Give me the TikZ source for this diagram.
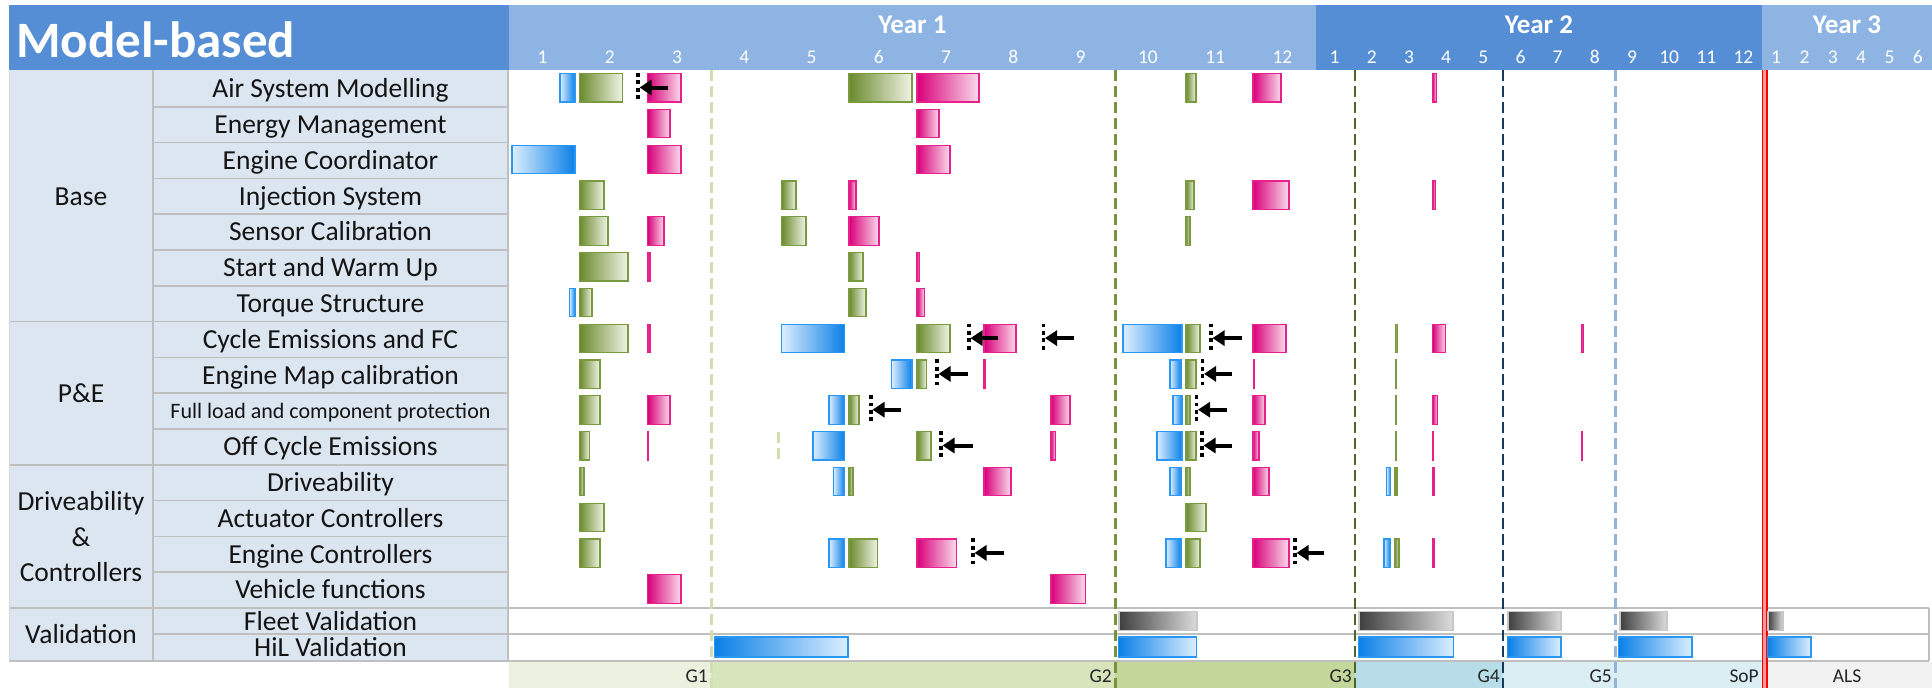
\documentclass[tikz,border=0pt]{standalone}
\usepackage{fontspec}
\setmainfont{Carlito}
\usetikzlibrary{arrows.meta}
\definecolor{hdrdark}{HTML}{558ED5}
\definecolor{hdrlight}{HTML}{8DB4E2}
\definecolor{cellbg}{HTML}{DCE6F1}
\definecolor{cellline}{HTML}{BFBFBF}
\definecolor{txt}{HTML}{141414}
\definecolor{gdraw}{HTML}{7A9A40}
\definecolor{gdark}{HTML}{6B8A2D}
\definecolor{glight}{HTML}{F0F4E6}
\definecolor{pdraw}{HTML}{E8208C}
\definecolor{pdark}{HTML}{D9007A}
\definecolor{plight}{HTML}{FADCEB}
\definecolor{bdraw}{HTML}{2A97F5}
\definecolor{bdark}{HTML}{0A80E8}
\definecolor{blight}{HTML}{DCEEFF}
\definecolor{ydraw}{HTML}{C8C8C8}
\definecolor{ydark}{HTML}{3F3F3F}
\definecolor{ylight}{HTML}{DCDCDC}
\definecolor{gA}{HTML}{EBF1DE}
\definecolor{gB}{HTML}{D7E4BC}
\definecolor{gC}{HTML}{C4D79B}
\definecolor{gD}{HTML}{B7DEE8}
\definecolor{gE}{HTML}{DAEEF3}
\definecolor{gF}{HTML}{F2F2F2}
\definecolor{lineG1}{HTML}{D0DFB0}
\definecolor{lineG2}{HTML}{77933C}
\definecolor{lineG3}{HTML}{4F6228}
\definecolor{lineG4}{HTML}{17375E}
\definecolor{lineG5}{HTML}{95B3D7}
\definecolor{gatetxt}{HTML}{262626}
\tikzset{
  gbar/.style={draw=gdraw, line width=1.2pt, left color=gdark, right color=glight},
  pbar/.style={draw=pdraw, line width=1.2pt, left color=pdark, right color=plight},
  bbarL/.style={draw=bdraw, line width=1.2pt, left color=blight, right color=bdark},
  bbarR/.style={draw=bdraw, line width=1.2pt, left color=bdark, right color=blight},
  ybar/.style={draw=ydraw, line width=1.2pt, left color=ydark, right color=ylight},
  dotmark/.style={black, line width=3.8pt, dash pattern=on 3.8pt off 3.6pt},
  arrmark/.style={black, line width=4pt, -{Triangle[length=12pt,width=15pt]}},
  gateline/.style={line width=2.6pt, dash pattern=on 11pt off 5pt},
  lab/.style={font=\fontsize{27.5}{31}\selectfont, text=txt, inner sep=0pt, text height=17.5pt, text depth=0pt},
  mon/.style={font=\fontsize{19.5}{22}\selectfont, text=white, inner sep=0pt, text height=12.5pt, text depth=0pt},
  yr/.style={font=\fontsize{27}{30}\selectfont\bfseries, text=white, inner sep=0pt, text height=17.5pt, text depth=0pt},
  gate/.style={font=\fontsize{19.5}{22}\selectfont, text=gatetxt, inner sep=0pt, text height=12.5pt, text depth=0pt},
}
\newcommand\tsk[4]{\pgfmathsetmacro\tya{71+(#4-1)*35.8+2.5}\pgfmathsetmacro\tyb{\tya+28.5}\path[#1] (#2,\tya) rectangle (#3,\tyb);}
\newcommand\mrk[3]{\pgfmathsetmacro\tya{71+(#3-1)*35.8+2}\pgfmathsetmacro\tyb{\tya+29}\pgfmathsetmacro\tym{\tya+14.5}%
  \draw[dotmark] (#1,\tya) -- (#1,\tyb);
  \draw[arrmark] (#2,\tym) -- (#1+1.5,\tym);}
\begin{document}
\begin{tikzpicture}[x=1pt,y=-1pt]
\useasboundingbox (0,0) rectangle (1932,688);
\fill[white] (0,0) rectangle (1932,688);
% header
\fill[hdrdark] (9,5) rectangle (509,70);
\fill[hdrlight] (509,5) rectangle (1316,70);
\fill[hdrdark] (1316,5) rectangle (1762,70);
\fill[hdrlight] (1762,5) rectangle (1932,70);
\node[anchor=base west, inner sep=0pt, text=white, font=\fontsize{51}{56}\selectfont\bfseries] (title) at (16,57) {Model-based};
\node[yr] (y1) at (912.5,25) {Year 1};
\node[yr] (y2) at (1539,25) {Year 2};
\node[yr] (y3) at (1847,25) {Year 3};
\foreach \m in {1,...,12} \node[mon] (ma\m) at ({509+(\m-0.5)*67.25},57) {\m};
\foreach \m in {1,...,12} \node[mon] (mb\m) at ({1316+(\m-0.5)*37.17},57) {\m};
\foreach \m in {1,...,6} \node[mon] (mc\m) at ({1762+(\m-0.5)*28.33},57) {\m};
% left table
\fill[cellbg] (9,70) rectangle (508,661);
\foreach \k in {1,...,14} \draw[cellline, line width=1.5pt] (153,{71+\k*35.8}) -- (508,{71+\k*35.8});
\foreach \k in {7,11,15} \draw[cellline, line width=1.5pt] (9,{71+\k*35.8}) -- (508,{71+\k*35.8});
\draw[cellline, line width=1.5pt] (153,634) -- (1929,634);
\draw[cellline, line width=1.5pt] (9,608) -- (1929,608);
\draw[cellline, line width=1.5pt] (9,661) -- (1929,661);
\draw[cellline, line width=1.5pt] (1929,608) -- (1929,661);
\draw[cellline, line width=1.5pt] (153,70) -- (153,661);
\draw[cellline, line width=1.5pt] (508,70) -- (508,661);
\draw[cellline!60, line width=1pt] (9,70) -- (9,661);
% row labels
\foreach \t [count=\i] in {Air System Modelling, Energy Management, Engine Coordinator, Injection System, Sensor Calibration, Start and Warm Up, Torque Structure, Cycle Emissions and FC, Engine Map calibration, {}, Off Cycle Emissions, Driveability, Actuator Controllers, Engine Controllers, Vehicle functions}
  \node[lab] (r\i) at (330.5,{71+(\i-1)*35.8+17.9}) {\t};
\node[lab, font=\fontsize{22}{24}\selectfont, text height=14pt] (r10b) at (330.5,{71+9*35.8+17.9}) {Full load and component protection};
\node[lab] (fleet) at (330.5,621.5) {Fleet Validation};
\node[lab] (hil) at (330.5,648) {HiL Validation};
\node[lab] (cbase) at (81,196.7) {Base};
\node[lab] (cpe) at (81,394) {P\&E};
\node[lab] (cdc1) at (81,502) {Driveability};
\node[lab] (cdc2) at (81,537.5) {\&};
\node[lab] (cdc3) at (81,573) {Controllers};
\node[lab] (cval) at (81,634.5) {Validation};
% gate bands
\fill[gA] (509,661.8) rectangle (711,688);
\fill[gB] (711,661.8) rectangle (1115,688);
\fill[gC] (1115,661.8) rectangle (1355,688);
\fill[gD] (1355,661.8) rectangle (1503,688);
\fill[gE] (1503,661.8) rectangle (1762,688);
\fill[gF] (1762,661.8) rectangle (1932,688);
\node[gate, anchor=east] (g1) at (708,676) {G1};
\node[gate, anchor=east] (g2) at (1112,676) {G2};
\node[gate, anchor=east] (g3) at (1352,676) {G3};
\node[gate, anchor=east] (g4) at (1500,676) {G4};
\node[gate, anchor=east] (g5) at (1612,676) {G5};
\node[gate, anchor=east] (sop) at (1759,676) {SoP};
\node[gate] (als) at (1847,676) {ALS};
% gate lines
\draw[gateline, lineG1] (711.5,70) -- (711.5,688);
\draw[gateline, lineG2] (1115.5,70) -- (1115.5,688);
\draw[gateline, lineG3] (1355,70) -- (1355,688);
\draw[gateline, lineG4] (1503,70) -- (1503,688);
\draw[gateline, lineG5] (1615.5,70) -- (1615.5,688);
\draw[red!40, line width=5pt] (1764.8,70) -- (1764.8,688);
\draw[red, line width=1.2pt] (1762.6,70) -- (1762.6,688);
\draw[red, line width=1.2pt] (1767,70) -- (1767,688);
% row 1
\tsk{bbarL}{560}{575}{1}\tsk{gbar}{579.5}{622.5}{1}\tsk{pbar}{647.5}{681}{1}
\tsk{gbar}{849}{912}{1}\tsk{pbar}{917}{979}{1}\tsk{gbar}{1186}{1196}{1}
\tsk{pbar}{1253}{1281}{1}\tsk{pbar}{1432.5}{1436.5}{1}
% row 2
\tsk{pbar}{647.5}{670}{2}\tsk{pbar}{917}{939}{2}
% row 3
\tsk{bbarL}{512}{575}{3}\tsk{pbar}{647.5}{681}{3}\tsk{pbar}{917}{950}{3}
% row 4
\tsk{gbar}{579.5}{604}{4}\tsk{gbar}{781.5}{796}{4}\tsk{pbar}{849}{856}{4}
\tsk{gbar}{1186}{1194}{4}\tsk{pbar}{1253}{1289}{4}\tsk{pbar}{1432.5}{1435.5}{4}
% row 5
\tsk{gbar}{579.5}{608}{5}\tsk{pbar}{647.5}{664}{5}\tsk{gbar}{781.5}{806}{5}
\tsk{pbar}{849}{879}{5}\tsk{gbar}{1186}{1190}{5}
% row 6
\tsk{gbar}{579.5}{628}{6}\tsk{pbar}{647.5}{650}{6}\tsk{gbar}{849}{863}{6}\tsk{pbar}{917}{919.5}{6}
% row 7
\tsk{bbarL}{569.5}{575}{7}\tsk{gbar}{579.5}{592}{7}\tsk{gbar}{849}{866}{7}\tsk{pbar}{917}{924.5}{7}
% row 8
\tsk{gbar}{579.5}{628}{8}\tsk{pbar}{647.5}{650}{8}\tsk{bbarL}{781.5}{844.5}{8}
\tsk{gbar}{917}{950}{8}\tsk{pbar}{984}{1016}{8}\tsk{bbarL}{1123}{1182}{8}
\tsk{gbar}{1186}{1200}{8}\tsk{pbar}{1253}{1286}{8}\tsk{gbar}{1395.5}{1397.5}{8}
\tsk{pbar}{1432.5}{1445.5}{8}\tsk{pbar}{1581.5}{1583.5}{8}
% row 9
\tsk{gbar}{579.5}{600}{9}\tsk{bbarL}{891.5}{912}{9}\tsk{gbar}{917}{926.5}{9}
\tsk{pbar}{984}{985.5}{9}\tsk{bbarL}{1170}{1181}{9}\tsk{gbar}{1186}{1196}{9}
\tsk{pbar}{1253.5}{1254.5}{9}\tsk{gbar}{1395.5}{1396.5}{9}
% row 10
\tsk{gbar}{579.5}{600}{10}\tsk{pbar}{647.5}{670}{10}\tsk{bbarL}{829}{844.5}{10}
\tsk{gbar}{849}{859}{10}\tsk{pbar}{1051}{1070}{10}\tsk{bbarL}{1173}{1182}{10}
\tsk{gbar}{1186}{1190}{10}\tsk{pbar}{1253}{1265}{10}\tsk{gbar}{1395.5}{1396.5}{10}
\tsk{pbar}{1432.5}{1437.5}{10}
% row 11
\tsk{gbar}{579.5}{589.5}{11}\tsk{pbar}{647.5}{648.5}{11}
\draw[lineG1, line width=2.5pt, dash pattern=on 11pt off 5pt] (778.5,431.5) -- (778.5,461);
\tsk{bbarL}{813}{844.5}{11}\tsk{gbar}{917}{931}{11}\tsk{pbar}{1051}{1055.5}{11}
\tsk{bbarL}{1157}{1182}{11}\tsk{gbar}{1186}{1196}{11}\tsk{pbar}{1253}{1259}{11}
\tsk{gbar}{1395.5}{1396.5}{11}\tsk{pbar}{1432.5}{1433.5}{11}\tsk{pbar}{1581.5}{1582.5}{11}
% row 12
\tsk{gbar}{579.5}{584}{12}\tsk{bbarL}{833.5}{844.5}{12}\tsk{gbar}{849}{853}{12}
\tsk{pbar}{984}{1011}{12}\tsk{bbarL}{1170}{1181}{12}\tsk{gbar}{1186}{1190}{12}
\tsk{pbar}{1253}{1269}{12}\tsk{bbarL}{1386.5}{1390.5}{12}\tsk{gbar}{1395}{1397}{12}
\tsk{pbar}{1432.5}{1434}{12}
% row 13
\tsk{gbar}{579.5}{604}{13}\tsk{gbar}{1186}{1206}{13}
% row 14
\tsk{gbar}{579.5}{600}{14}\tsk{bbarL}{829}{844.5}{14}\tsk{gbar}{849}{877.5}{14}
\tsk{pbar}{917}{956.5}{14}\tsk{bbarL}{1166}{1181}{14}\tsk{gbar}{1186}{1200}{14}
\tsk{pbar}{1253}{1289}{14}\tsk{bbarL}{1384}{1390}{14}\tsk{gbar}{1395}{1399}{14}
\tsk{pbar}{1432.5}{1434}{14}
% row 15
\tsk{pbar}{647.5}{681}{15}\tsk{pbar}{1051}{1085.5}{15}
% fleet
\foreach \a/\b in {1119/1197, 1359/1453, 1508/1561, 1620/1667, 1768/1783}
  \path[ybar] (\a,611.5) rectangle (\b,630.5);
% HiL
\foreach \a/\b in {714.5/848, 1118.5/1196.5, 1358.5/1453.5, 1507.5/1561, 1618.5/1692, 1767.5/1811}
  \path[bbarR] (\a,637) rectangle (\b,657);
% markers
\mrk{638}{668}{1}
\mrk{969}{998}{8}\mrk{1043.5}{1074}{8}\mrk{1211}{1242}{8}
\mrk{937}{968}{9}\mrk{1202.5}{1232}{9}
\mrk{871}{901}{10}\mrk{1196.5}{1227}{10}
\mrk{941}{973}{11}\mrk{1202}{1232}{11}
\mrk{973}{1004}{14}\mrk{1295}{1324}{14}
\end{tikzpicture}
\end{document}
